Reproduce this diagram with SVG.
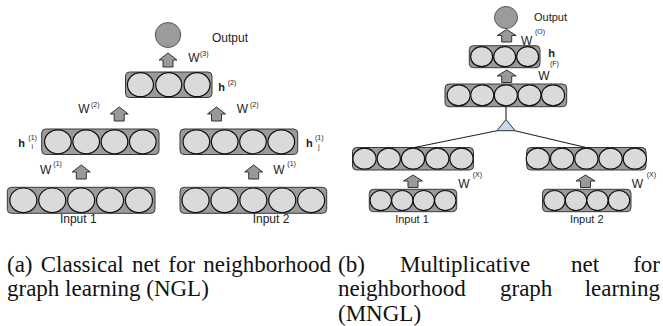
<svg xmlns="http://www.w3.org/2000/svg" xmlns:xlink="http://www.w3.org/1999/xlink" width="663" height="326" viewBox="0 0 663 326">
<style>
.box{fill:#9b9b9b;stroke:#3a3a3a;stroke-width:1}
.c{fill:#dadada;stroke:#111;stroke-width:1.2}
.out{fill:#9b9b9b;stroke:#555;stroke-width:1}
.arr{fill:#999;stroke:#333;stroke-width:1}
.t{font-family:"Liberation Sans",Arial,sans-serif;fill:#222}
.ta{font-size:12px}
.tb{font-size:11px}
.hb{font-weight:bold;font-size:11px}
.sup{font-size:7px}
.cap{font-family:"Liberation Serif","Times New Roman",serif;font-size:23px;fill:#111}
.ln{stroke:#222;stroke-width:1.1;fill:none}
.tri{fill:#c6d9ef;stroke:#333;stroke-width:1}
</style>
<defs>
<path id="arrA" class="arr" d="M0,0 L9,7 L5,7 L5,14 L-5,14 L-5,7 L-9,7 Z"/>
<path id="arrB" class="arr" d="M0,0 L9.5,6 L5,6 L5,12.5 L-5,12.5 L-5,6 L-9.5,6 Z"/>
</defs>

<!-- Panel (a) -->
<g id="a-output">
<ellipse class="out" cx="168" cy="35" rx="12.7" ry="12.5"/>
<text class="t ta" x="212" y="42">Output</text>
</g>
<g id="a-h2">
<rect class="box" x="125.5" y="72" width="86.5" height="25.5" rx="4"/>
<ellipse class="c" cx="140.45" cy="84.7" rx="13" ry="12"/>
<ellipse class="c" cx="168.75" cy="84.7" rx="13" ry="12"/>
<ellipse class="c" cx="197.05" cy="84.7" rx="13" ry="12"/>
<text class="t hb" x="218.3" y="91">h</text>
<text class="t sup" x="227.7" y="85">(2)</text>
</g>
<g id="a-h1i">
<rect class="box" x="41.7" y="129" width="117.3" height="25.5" rx="4"/>
<ellipse class="c" cx="57.9" cy="141.8" rx="13.3" ry="12"/>
<ellipse class="c" cx="86.2" cy="141.8" rx="13.3" ry="12"/>
<ellipse class="c" cx="114.5" cy="141.8" rx="13.3" ry="12"/>
<ellipse class="c" cx="142.8" cy="141.8" rx="13.3" ry="12"/>
<text class="t hb" x="18.3" y="146.7">h</text>
<text class="t sup" x="28.3" y="140">(1)</text>
<text class="t sup" x="31.5" y="148.5">i</text>
</g>
<g id="a-h1j">
<rect class="box" x="180" y="129" width="117.7" height="25.5" rx="4"/>
<ellipse class="c" cx="196.4" cy="141.8" rx="13.3" ry="12"/>
<ellipse class="c" cx="224.7" cy="141.8" rx="13.3" ry="12"/>
<ellipse class="c" cx="253" cy="141.8" rx="13.3" ry="12"/>
<ellipse class="c" cx="281.3" cy="141.8" rx="13.3" ry="12"/>
<text class="t hb" x="306" y="146.7">h</text>
<text class="t sup" x="315" y="140">(1)</text>
<text class="t sup" x="318" y="148.5">j</text>
</g>
<g id="a-input1">
<rect class="box" x="7.3" y="187.3" width="147.7" height="26" rx="4"/>
<ellipse class="c" cx="23.35" cy="200.3" rx="13.5" ry="12.3"/>
<ellipse class="c" cx="52.25" cy="200.3" rx="13.5" ry="12.3"/>
<ellipse class="c" cx="81.15" cy="200.3" rx="13.5" ry="12.3"/>
<ellipse class="c" cx="110.05" cy="200.3" rx="13.5" ry="12.3"/>
<ellipse class="c" cx="138.95" cy="200.3" rx="13.5" ry="12.3"/>
<text class="t ta" x="78.3" y="223" text-anchor="middle">Input 1</text>
</g>
<g id="a-input2">
<rect class="box" x="180" y="187.3" width="146.7" height="26" rx="4"/>
<ellipse class="c" cx="195.55" cy="200.3" rx="13.5" ry="12.3"/>
<ellipse class="c" cx="224.45" cy="200.3" rx="13.5" ry="12.3"/>
<ellipse class="c" cx="253.35" cy="200.3" rx="13.5" ry="12.3"/>
<ellipse class="c" cx="282.25" cy="200.3" rx="13.5" ry="12.3"/>
<ellipse class="c" cx="311.15" cy="200.3" rx="13.5" ry="12.3"/>
<text class="t ta" x="271" y="223" text-anchor="middle">Input 2</text>
</g>
<g id="a-connectors">
<use xlink:href="#arrA" x="168" y="53"/>
<text class="t ta" x="188.3" y="62.3">W</text><text class="t sup" x="200" y="55.5">(3)</text>
<use xlink:href="#arrA" x="119.2" y="107"/>
<text class="t ta" x="78.3" y="113.3">W</text><text class="t sup" x="91" y="107">(2)</text>
<use xlink:href="#arrA" x="216.5" y="107"/>
<text class="t ta" x="236.7" y="113.3">W</text><text class="t sup" x="250" y="107">(2)</text>
<use xlink:href="#arrA" x="81.3" y="165"/>
<text class="t ta" x="40" y="174">W</text><text class="t sup" x="53.3" y="166">(1)</text>
<use xlink:href="#arrA" x="253.7" y="165"/>
<text class="t ta" x="273.3" y="174">W</text><text class="t sup" x="287.3" y="166">(1)</text>
</g>

<!-- Panel (b) -->
<g id="b-output">
<ellipse class="out" cx="506" cy="17.5" rx="11.5" ry="11"/>
<text class="t tb" x="534" y="21">Output</text>
</g>
<g id="b-h">
<rect class="box" x="469.3" y="45.7" width="70.7" height="22" rx="4"/>
<ellipse class="c" cx="481.65" cy="56.7" rx="11" ry="10"/>
<ellipse class="c" cx="504.65" cy="56.7" rx="11" ry="10"/>
<ellipse class="c" cx="527.65" cy="56.7" rx="11" ry="10"/>
<text class="t hb" x="548.3" y="57.3">h</text>
</g>
<g id="b-factor">
<rect class="box" x="445" y="84" width="121.7" height="22.7" rx="4"/>
<ellipse class="c" cx="458.65" cy="95.3" rx="11.5" ry="10.5"/>
<ellipse class="c" cx="482.25" cy="95.3" rx="11.5" ry="10.5"/>
<ellipse class="c" cx="505.85" cy="95.3" rx="11.5" ry="10.5"/>
<ellipse class="c" cx="529.45" cy="95.3" rx="11.5" ry="10.5"/>
<ellipse class="c" cx="553.05" cy="95.3" rx="11.5" ry="10.5"/>
</g>
<g id="b-mult">
<path class="tri" d="M506,119.5 L515,130.7 L497,130.7 Z"/>
</g>
<g id="b-x1">
<rect class="box" x="352.5" y="147.5" width="121" height="22.5" rx="4"/>
<ellipse class="c" cx="364.5" cy="158.7" rx="11.6" ry="10.5"/>
<ellipse class="c" cx="388.75" cy="158.7" rx="11.6" ry="10.5"/>
<ellipse class="c" cx="413" cy="158.7" rx="11.6" ry="10.5"/>
<ellipse class="c" cx="437.25" cy="158.7" rx="11.6" ry="10.5"/>
<ellipse class="c" cx="461.5" cy="158.7" rx="11.6" ry="10.5"/>
</g>
<g id="b-x2">
<rect class="box" x="526.7" y="147.5" width="119.3" height="22.5" rx="4"/>
<ellipse class="c" cx="537.85" cy="158.7" rx="11.6" ry="10.5"/>
<ellipse class="c" cx="562.1" cy="158.7" rx="11.6" ry="10.5"/>
<ellipse class="c" cx="586.35" cy="158.7" rx="11.6" ry="10.5"/>
<ellipse class="c" cx="610.6" cy="158.7" rx="11.6" ry="10.5"/>
<ellipse class="c" cx="634.85" cy="158.7" rx="11.6" ry="10.5"/>
</g>
<g id="b-input1">
<rect class="box" x="369.3" y="189.3" width="87.4" height="22.4" rx="4"/>
<ellipse class="c" cx="380.75" cy="200.5" rx="10.7" ry="10"/>
<ellipse class="c" cx="402.25" cy="200.5" rx="10.7" ry="10"/>
<ellipse class="c" cx="423.75" cy="200.5" rx="10.7" ry="10"/>
<ellipse class="c" cx="445.25" cy="200.5" rx="10.7" ry="10"/>
<text class="t tb" x="412" y="223.3" text-anchor="middle">Input 1</text>
</g>
<g id="b-input2">
<rect class="box" x="542.5" y="189.3" width="88.5" height="22.4" rx="4"/>
<ellipse class="c" cx="554.5" cy="200.5" rx="10.7" ry="10"/>
<ellipse class="c" cx="576" cy="200.5" rx="10.7" ry="10"/>
<ellipse class="c" cx="597.5" cy="200.5" rx="10.7" ry="10"/>
<ellipse class="c" cx="619" cy="200.5" rx="10.7" ry="10"/>
<text class="t tb" x="586.7" y="223.3" text-anchor="middle">Input 2</text>
</g>
<g id="b-connectors">
<use xlink:href="#arrB" x="506.7" y="29.5"/>
<text class="t ta" x="521" y="45">W</text><text class="t sup" x="535" y="33.5">(O)</text>
<use xlink:href="#arrB" x="506.7" y="70"/>
<text class="t ta" x="538.3" y="80">W</text><text class="t sup" x="550" y="66">(F)</text>
<path class="ln" d="M506,106.7 V119.5"/>
<path class="ln" d="M497,130.7 L413,147.7"/>
<path class="ln" d="M515,130.7 L586,147.5"/>
<use xlink:href="#arrB" x="413" y="175"/>
<text class="t ta" x="458.3" y="188">W</text><text class="t sup" x="472.7" y="177">(X)</text>
<use xlink:href="#arrB" x="585.5" y="175"/>
<text class="t ta" x="631.7" y="188">W</text><text class="t sup" x="646.7" y="177">(X)</text>
</g>

<!-- Captions -->
<g id="caption-a">
<text class="cap" x="7" y="271.5">(a)</text>
<text class="cap" x="40.7" y="271.5">Classical</text>
<text class="cap" x="132" y="271.5">net</text>
<text class="cap" x="168.3" y="271.5">for</text>
<text class="cap" x="331" y="271.5" text-anchor="end">neighborhood</text>
<text class="cap" x="7" y="296">graph learning (NGL)</text>
</g>
<g id="caption-b">
<text class="cap" x="338" y="271.5">(b)</text>
<text class="cap" x="400" y="271.5">Multiplicative</text>
<text class="cap" x="571" y="271.5">net</text>
<text class="cap" x="660" y="271.5" text-anchor="end">for</text>
<text class="cap" x="338" y="296">neighborhood</text>
<text class="cap" x="500" y="296">graph</text>
<text class="cap" x="660" y="296" text-anchor="end">learning</text>
<text class="cap" x="338" y="320.5">(MNGL)</text>
</g>
</svg>
